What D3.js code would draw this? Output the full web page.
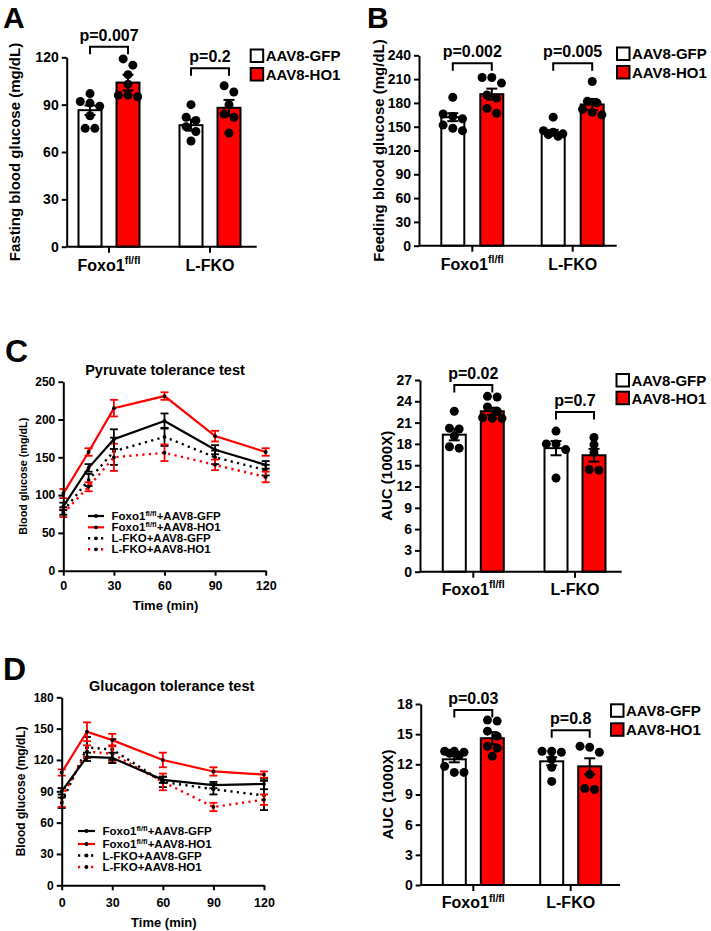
<!DOCTYPE html>
<html><head><meta charset="utf-8">
<script src="https://cdn.jsdelivr.net/npm/d3@7"></script>
<style>
body{margin:0;background:#fff}
text{font-family:"Liberation Sans",Arial,Helvetica,sans-serif;font-weight:bold;fill:#000}
</style>
</head><body>
<svg id="fig" width="711" height="931"></svg>
<script>
// ---------- DATA ----------
const groups = ["Foxo1", "L-FKO"];
const series = ["AAV8-GFP", "AAV8-HO1"];
const times = [0, 15, 30, 60, 90, 120];
const timeTicks = [0, 30, 60, 90, 120];

// A: fasting blood glucose  [group][series]
const fastingMean = [[86.5, 104], [77, 88]];
const fastingSem  = [[3, 5], [3.5, 5]];
const fastingDots = [
  [[97, 92, 89, 91, 83, 75, 75], [119, 115, 109, 103, 96, 96, 95]],
  [[90, 82, 80, 76, 73, 67], [102, 98, 90, 84, 82, 72]]
];
const fastingP = ["p=0.007", "p=0.2"];
const fastingTicks = [0, 30, 60, 90, 120];

// B: feeding blood glucose
const feedingMean = [[162, 191], [143, 178]];
const feedingSem  = [[5, 7], [3, 7]];
const feedingDots = [
  [[187, 166, 163, 160, 152, 148, 145], [212, 212, 205, 190, 186, 173, 167]],
  [[162, 145, 143, 141, 140, 138], [207, 182, 180, 172, 168, 165]]
];
const feedingP = ["p=0.002", "p=0.005"];
const feedingTicks = [0, 30, 60, 90, 120, 150, 180, 210, 240];

// C: pyruvate tolerance test
const pttFoxoGfp = [85, 136, 174, 198, 160, 140];
const pttFoxoGfpSem = [5, 5, 13, 10, 6, 5];
const pttFoxoHo1 = [102, 157, 215, 231, 178, 157];
const pttFoxoHo1Sem = [6, 5, 11, 5, 7, 5];
const pttLfkoGfp = [79, 120, 158, 177, 150, 133];
const pttLfkoGfpSem = [5, 8, 18, 12, 9, 7];
const pttLfkoHo1 = [76, 111, 150, 156, 140, 124];
const pttLfkoHo1Sem = [5, 6, 18, 11, 7, 7];
const pttTicks = [0, 50, 100, 150, 200, 250];

const pttAucMean = [[19.3, 22.6], [17.4, 16.4]];
const pttAucSem  = [[0.8, 0.5], [1.0, 0.9]];
const pttAucDots = [
  [[22.6, 20.2, 20.1, 19.1, 17.6, 17.4], [24.7, 24.6, 23.2, 22.6, 21.6, 21.6, 21.7]],
  [[19.8, 18.0, 18.0, 17.2, 13.2], [18.9, 17.9, 16.8, 14.4, 14.3]]
];
const pttAucP = ["p=0.02", "p=0.7"];
const pttAucTicks = [0, 3, 6, 9, 12, 15, 18, 21, 24, 27];

// D: glucagon tolerance test
const gttFoxoGfp = [90, 123, 122, 101, 96, 97];
const gttFoxoGfpSem = [3, 4, 5, 3, 3, 5];
const gttFoxoHo1 = [108, 147, 139, 120, 109, 106];
const gttFoxoHo1Sem = [3, 9, 6, 7, 4, 3];
const gttLfkoGfp = [79, 132, 130, 99, 92, 86];
const gttLfkoGfpSem = [5, 10, 10, 5, 5, 14];
const gttLfkoHo1 = [84, 128, 126, 99, 75, 82];
const gttLfkoHo1Sem = [9, 6, 8, 8, 4, 5];
const gttTicks = [0, 30, 60, 90, 120, 150, 180];

const gttAucMean = [[12.5, 14.6], [12.3, 11.8]];
const gttAucSem  = [[0.3, 0.6], [0.4, 0.8]];
const gttAucDots = [
  [[13.3, 13.3, 13.2, 13.1, 12.9, 11.8, 11.2, 11.2], [16.4, 16.3, 15.3, 14.8, 13.8, 13.6, 12.8]],
  [[13.3, 13.2, 13.3, 12.5, 11.7, 10.3], [13.8, 13.7, 13.2, 11.0, 9.5, 9.6]]
];
const gttAucP = ["p=0.03", "p=0.8"];
const gttAucTicks = [0, 3, 6, 9, 12, 15, 18];

// ---------- DRAWING ----------
const RED = "#ff0000";
const svg = d3.select("#fig");

function styleAxis(sel, fs) {
  sel.select(".domain").attr("stroke", "#000").attr("stroke-width", 2);
  sel.selectAll(".tick line").attr("stroke", "#000").attr("stroke-width", 2);
  sel.selectAll(".tick text").attr("font-size", fs).attr("font-family", null).attr("fill", "#000");
}

function groupLabel(g, x, y, name, size) {
  const t = g.append("text").attr("x", x).attr("y", y).attr("text-anchor", "middle").attr("font-size", size);
  if (name === "Foxo1") {
    t.append("tspan").text("Foxo1");
    t.append("tspan").attr("dy", -size * 0.42).attr("font-size", size * 0.66).text("fl/fl");
  } else t.text(name);
}

function swarm(vals, y, r) {
  const sorted = vals.map(v => v).sort((a, b) => b - a);
  const rows = [];
  sorted.forEach(v => {
    const last = rows[rows.length - 1];
    if (last && Math.abs(y(last[0]) - y(v)) < 7 && last.length < 3) last.push(v);
    else rows.push([v]);
  });
  const out = [];
  rows.forEach(row => row.forEach((v, i) => out.push({v, dx: (i - (row.length - 1) / 2) * r * 2.15})));
  return out;
}

function barPanel(c, means, sems, dots, pvals, ticks, yTitle) {
  const g = svg.append("g");
  const y = d3.scaleLinear().domain([0, c.max]).range([c.yb, c.yt]);
  const xg = d3.scalePoint().domain(groups).range(c.centers);
  const xs = d3.scalePoint().domain(series).range([-c.off, c.off]);
  const bw = 23, r = 4.5;

  groups.forEach((gr, gi) => {
    series.forEach((s, si) => {
      const cx = xg(gr) + xs(s);
      g.append("rect").attr("x", cx - bw / 2).attr("y", y(means[gi][si]))
        .attr("width", bw).attr("height", y(0) - y(means[gi][si]))
        .attr("fill", si === 0 ? "#fff" : RED).attr("stroke", "#000").attr("stroke-width", 2);
    });
  });
  groups.forEach((gr, gi) => {
    series.forEach((s, si) => {
      const cx = xg(gr) + xs(s);
      swarm(dots[gi][si], y, r).forEach(d => {
        g.append("circle").attr("cx", cx + d.dx).attr("cy", y(d.v)).attr("r", r).attr("fill", "#000");
      });
      const m = means[gi][si], e = sems[gi][si];
      const eb = g.append("g").attr("stroke", "#000").attr("stroke-width", 2);
      eb.append("line").attr("x1", cx).attr("x2", cx).attr("y1", y(m - e)).attr("y2", y(m + e));
      [m - e, m + e].forEach(v => eb.append("line").attr("x1", cx - 5.5).attr("x2", cx + 5.5).attr("y1", y(v)).attr("y2", y(v)));
    });
    // bracket
    const by = y(c.br[gi]);
    const xa = xg(gr) + xs(series[0]), xb = xg(gr) + xs(series[1]);
    g.append("path").attr("d", `M${xa},${by + 7.5}V${by}H${xb}V${by + 7.5}`)
      .attr("fill", "none").attr("stroke", "#000").attr("stroke-width", 2);
    g.append("text").attr("x", (xa + xb) / 2).attr("y", by - 6).attr("text-anchor", "middle")
      .attr("font-size", 16).text(pvals[gi]);
  });

  // axes
  const ya = g.append("g").attr("transform", `translate(${c.x0},0)`)
    .call(d3.axisLeft(y).tickValues(ticks).tickSize(5).tickSizeOuter(0).tickPadding(3));
  styleAxis(ya, 14);
  g.append("line").attr("x1", c.x0).attr("x2", c.x1).attr("y1", c.yb).attr("y2", c.yb)
    .attr("stroke", "#000").attr("stroke-width", 2);
  groups.forEach(gr => {
    g.append("line").attr("x1", xg(gr)).attr("x2", xg(gr)).attr("y1", c.yb).attr("y2", c.yb + 6)
      .attr("stroke", "#000").attr("stroke-width", 2);
    groupLabel(g, xg(gr), c.labY, gr, 16);
  });
  g.append("text").attr("transform", `translate(${c.titleX},${(c.yb + c.yt) / 2}) rotate(-90)`)
    .attr("text-anchor", "middle").attr("dy", "0.35em").attr("font-size", 15).text(yTitle);

  // legend
  series.forEach((s, si) => {
    const ly = c.ly + si * c.lstep;
    g.append("rect").attr("x", c.lx).attr("y", ly).attr("width", 12.5).attr("height", 12.5)
      .attr("fill", si === 0 ? "#fff" : RED).attr("stroke", "#000").attr("stroke-width", 2);
    g.append("text").attr("x", c.lx + 15).attr("y", ly + 6.5).attr("dy", "0.36em")
      .attr("font-size", 15).text(s);
  });
}

function linePanel(c, lines, ticks, title) {
  const g = svg.append("g");
  const x = d3.scaleLinear().domain([0, 120]).range([c.x0, c.x1]);
  const y = d3.scaleLinear().domain([0, c.max]).range([c.yb, c.yt]);
  const lineGen = d3.line().x((d, i) => x(times[i])).y(d => y(d));

  lines.forEach(L => {
    g.append("path").datum(L.vals).attr("d", lineGen).attr("fill", "none")
      .attr("stroke", L.color).attr("stroke-width", L.dash ? 2.4 : 2.2)
      .attr("stroke-dasharray", L.dash ? "2.2,4.3" : null);
    const eb = g.append("g").attr("stroke", L.color).attr("stroke-width", 1.8);
    L.vals.forEach((v, i) => {
      const cx = x(times[i]), e = L.sem[i];
      eb.append("line").attr("x1", cx).attr("x2", cx).attr("y1", y(v - e)).attr("y2", y(v + e));
      [v - e, v + e].forEach(w => eb.append("line").attr("x1", cx - 4).attr("x2", cx + 4).attr("y1", y(w)).attr("y2", y(w)));
    });
    L.vals.forEach((v, i) => g.append("circle").attr("cx", x(times[i])).attr("cy", y(v)).attr("r", 1.9).attr("fill", "#000"));
  });

  const ya = g.append("g").attr("transform", `translate(${c.x0},0)`)
    .call(d3.axisLeft(y).tickValues(ticks).tickSize(5).tickSizeOuter(0).tickPadding(3));
  styleAxis(ya, 12);
  const xa = g.append("g").attr("transform", `translate(0,${c.yb})`)
    .call(d3.axisBottom(x).tickValues(timeTicks).tickSize(5).tickSizeOuter(0).tickPadding(c.xpad));
  styleAxis(xa, 12.5);

  g.append("text").attr("x", (c.x0 + c.x1) / 2 + 1).attr("y", c.xTitleY).attr("text-anchor", "middle")
    .attr("font-size", 13).text("Time (min)");
  g.append("text").attr("transform", `translate(${c.yTitleX},${(c.yb + c.yt) / 2}) rotate(-90)`)
    .attr("text-anchor", "middle").attr("dy", "0.35em").attr("font-size", c.yTitleSize).text("Blood glucose (mg/dL)");
  g.append("text").attr("x", c.titleCx).attr("y", c.titleY).attr("text-anchor", "middle")
    .attr("font-size", 14.5).text(title);

  // legend (in legend order)
  c.legendOrder.forEach((li, k) => {
    const L = lines[li];
    const ly = c.legRows[k];
    g.append("line").attr("x1", c.legX0).attr("x2", c.legX1).attr("y1", ly).attr("y2", ly)
      .attr("stroke", L.color).attr("stroke-width", L.dash ? 2.4 : 2.2)
      .attr("stroke-dasharray", L.dash ? "2.2,4.3" : null);
    g.append("circle").attr("cx", (c.legX0 + c.legX1) / 2).attr("cy", ly).attr("r", 1.9).attr("fill", "#000");
    const t = g.append("text").attr("x", c.legTextX).attr("y", ly).attr("dy", "0.36em").attr("font-size", 11.5);
    if (L.geno === "Foxo1") {
      t.append("tspan").text("Foxo1");
      t.append("tspan").attr("dy", -4.5).attr("font-size", 7.5).text("fl/fl");
      t.append("tspan").attr("dy", 4.5).text("+" + L.vector);
    } else t.text(L.geno + "+" + L.vector);
  });
}

// panel letters
[["A", 3, 28, 30], ["B", 367, 28, 30], ["C", 5, 362, 32], ["D", 3, 680, 32]].forEach(([s, x, y, fs]) =>
  svg.append("text").attr("x", x).attr("y", y).attr("font-size", fs).text(s));

barPanel({x0: 66.7, x1: 256.7, yb: 246.7, yt: 57.3, max: 120, centers: [109, 210], off: 19,
          labY: 271, titleX: 15, br: [126.7, 113], lx: 250.7, ly: 49.5, lstep: 18.5},
  fastingMean, fastingSem, fastingDots, fastingP, fastingTicks, "Fasting blood glucose (mg/dL)");

barPanel({x0: 419, x1: 616.7, yb: 245.7, yt: 55.3, max: 240, centers: [472.3, 572.7], off: 19.5,
          labY: 270, titleX: 378.3, br: [230, 230], lx: 617, ly: 47.5, lstep: 18.5},
  feedingMean, feedingSem, feedingDots, feedingP, feedingTicks, "Feeding blood glucose (mg/dL)");

barPanel({x0: 420, x1: 621.7, yb: 571.7, yt: 380, max: 27, centers: [473.3, 575], off: 19,
          labY: 595, titleX: 386.7, br: [26.3, 22.5], lx: 616.5, ly: 374, lstep: 17.7},
  pttAucMean, pttAucSem, pttAucDots, pttAucP, pttAucTicks, "AUC (1000X)");

barPanel({x0: 420.7, x1: 620, yb: 885, yt: 704, max: 18, centers: [473.3, 570.7], off: 19,
          labY: 908.3, titleX: 387.3, br: [17.4, 15.4], lx: 611, ly: 704.3, lstep: 19},
  gttAucMean, gttAucSem, gttAucDots, gttAucP, gttAucTicks, "AUC (1000X)");

linePanel({x0: 63.3, x1: 265.7, yb: 570.7, yt: 381.7, max: 250, xpad: 5, xTitleY: 610,
           yTitleX: 23.3, yTitleSize: 10.8, titleCx: 165, titleY: 375,
           legendOrder: [2, 3, 0, 1], legRows: [516, 527.3, 538.3, 549.3], legX0: 88, legX1: 104, legTextX: 111.5},
  [
    {vals: pttLfkoGfp, sem: pttLfkoGfpSem, color: "#000", dash: true, geno: "L-FKO", vector: "AAV8-GFP"},
    {vals: pttLfkoHo1, sem: pttLfkoHo1Sem, color: RED, dash: true, geno: "L-FKO", vector: "AAV8-HO1"},
    {vals: pttFoxoGfp, sem: pttFoxoGfpSem, color: "#000", dash: false, geno: "Foxo1", vector: "AAV8-GFP"},
    {vals: pttFoxoHo1, sem: pttFoxoHo1Sem, color: RED, dash: false, geno: "Foxo1", vector: "AAV8-HO1"}
  ], pttTicks, "Pyruvate tolerance test");

linePanel({x0: 61.7, x1: 264, yb: 885.3, yt: 697.3, max: 180, xpad: 8, xTitleY: 926.5,
           yTitleX: 20.7, yTitleSize: 12, titleCx: 171.7, titleY: 691,
           legendOrder: [2, 3, 0, 1], legRows: [831, 844, 855.5, 867], legX0: 78, legX1: 95, legTextX: 102.5},
  [
    {vals: gttLfkoGfp, sem: gttLfkoGfpSem, color: "#000", dash: true, geno: "L-FKO", vector: "AAV8-GFP"},
    {vals: gttLfkoHo1, sem: gttLfkoHo1Sem, color: RED, dash: true, geno: "L-FKO", vector: "AAV8-HO1"},
    {vals: gttFoxoGfp, sem: gttFoxoGfpSem, color: "#000", dash: false, geno: "Foxo1", vector: "AAV8-GFP"},
    {vals: gttFoxoHo1, sem: gttFoxoHo1Sem, color: RED, dash: false, geno: "Foxo1", vector: "AAV8-HO1"}
  ], gttTicks, "Glucagon tolerance test");
</script>
</body></html>
